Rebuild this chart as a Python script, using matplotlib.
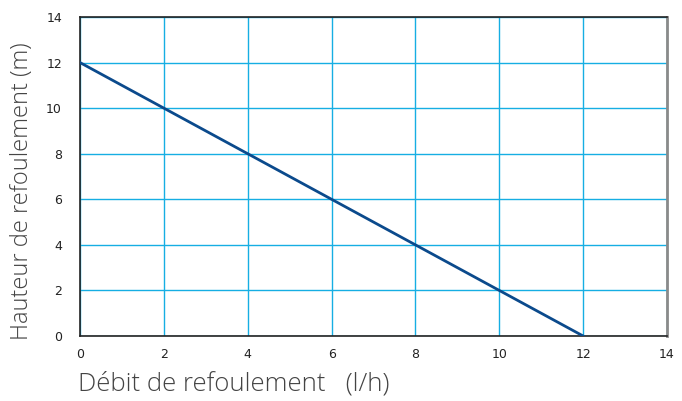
import matplotlib.pyplot as plt

# données
debit = [0, 2, 4, 6, 8, 10, 12]
hauteur = [12, 10, 8, 6, 4, 2, 0]
ticks = [0, 2, 4, 6, 8, 10, 12, 14]

fig = plt.figure(figsize=(6.82, 4.01), dpi=100)
ax = fig.add_axes([80/682, 1-336/401, 587/682, 319/401])

ax.plot(debit, hauteur, color="#0b4a8c", lw=2.0, zorder=3)

ax.set_xlim(0, 14)
ax.set_ylim(0, 14)
ax.set_xticks(ticks)
ax.set_yticks(ticks)
ax.grid(True, color="#16aee3", lw=1.0)
ax.tick_params(length=0, labelsize=9, colors="#222222")
ax.tick_params(axis="y", pad=13)
ax.tick_params(axis="x", pad=9)

for s in ["left", "bottom", "top"]:
    ax.spines[s].set_color("#222222")
    ax.spines[s].set_linewidth(1.2)
ax.spines["right"].set_color("#8a8a8a")
ax.spines["right"].set_linewidth(2)

lab = dict(family="Open Sans", weight="light", color="#444444")
ax.set_xlabel("Débit de refoulement   (l/h)", loc="left", labelpad=7, size=18.5, **lab)
ax.set_ylabel("Hauteur de refoulement (m)", loc="bottom", labelpad=9, size=17, **lab)
ax.xaxis.label.set_x(-0.004)
ax.yaxis.label.set_y(-0.012)

fig.savefig("out.png", dpi=100)
